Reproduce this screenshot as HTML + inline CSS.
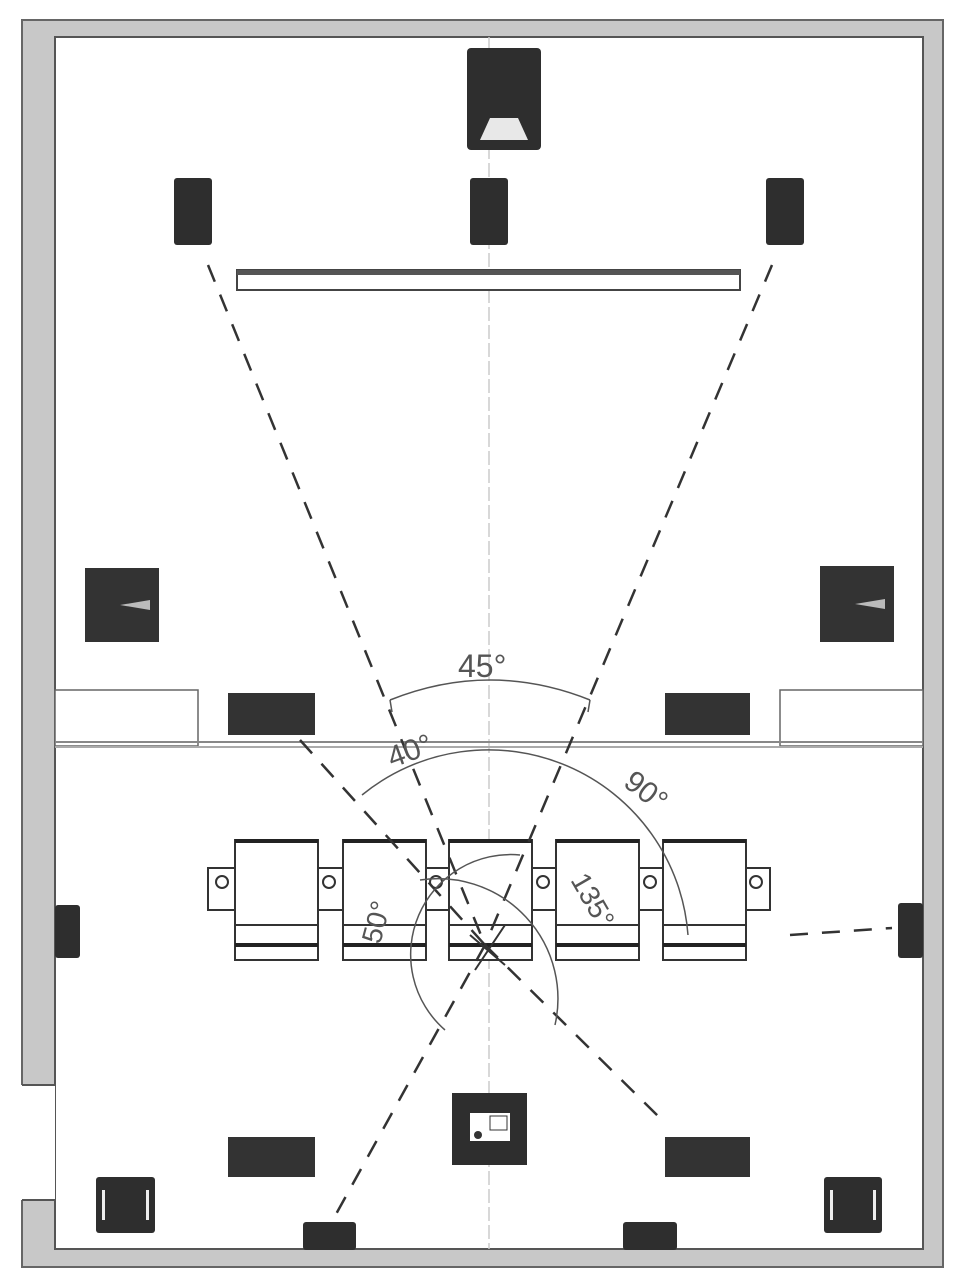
<!DOCTYPE html>
<html><head><meta charset="utf-8"><style>
html,body{margin:0;padding:0;background:#fff}
svg{display:block}
text{font-family:"Liberation Sans",sans-serif;fill:#555}
</style></head><body>
<svg width="960" height="1287" viewBox="0 0 960 1287" xmlns="http://www.w3.org/2000/svg">
<!-- walls -->
<rect x="22" y="20" width="921" height="1247" fill="#c8c8c8" stroke="#666" stroke-width="2"/>
<rect x="55" y="37" width="868" height="1212" fill="#fff" stroke="#555" stroke-width="2"/>
<rect x="21" y="1085" width="34" height="115" fill="#fff"/>
<line x1="22" y1="1085" x2="55" y2="1085" stroke="#555" stroke-width="2"/>
<line x1="22" y1="1200" x2="55" y2="1200" stroke="#555" stroke-width="2"/>
<!-- center line -->
<line x1="489" y1="37" x2="489" y2="1249" stroke="#ccc" stroke-width="1.5" stroke-dasharray="14 4"/>
<!-- top sub -->
<rect x="467" y="48" width="74" height="102" rx="4" fill="#2e2e2e"/>
<polygon points="480,140 528,140 518,118 490,118" fill="#e8e8e8"/>
<!-- front speakers -->
<rect x="174" y="178" width="38" height="67" rx="3" fill="#2e2e2e"/>
<rect x="470" y="178" width="38" height="67" rx="3" fill="#2e2e2e"/>
<rect x="766" y="178" width="38" height="67" rx="3" fill="#2e2e2e"/>
<!-- screen -->
<rect x="237" y="270" width="503" height="20" fill="#fff" stroke="#444" stroke-width="2"/>
<rect x="237" y="270" width="503" height="5" fill="#555"/>
<!-- side subs -->
<rect x="85" y="568" width="74" height="74" fill="#333"/>
<polygon points="120,605 150,600 150,610" fill="#bbb"/>
<rect x="820" y="566" width="74" height="76" fill="#333"/>
<polygon points="855,604 885,599 885,609" fill="#bbb"/>
<!-- partition -->
<rect x="55" y="690" width="143" height="56" fill="#fff" stroke="#666" stroke-width="1.5"/>
<rect x="780" y="690" width="143" height="56" fill="#fff" stroke="#666" stroke-width="1.5"/>
<line x1="55" y1="742" x2="923" y2="742" stroke="#888" stroke-width="2"/>
<line x1="55" y1="747" x2="923" y2="747" stroke="#aaa" stroke-width="2"/>
<rect x="228" y="693" width="87" height="42" fill="#333"/>
<rect x="665" y="693" width="85" height="42" fill="#333"/>
<!-- seats -->
<g stroke="#333" stroke-width="2" fill="#fff">
<rect x="208" y="868" width="562" height="42"/>
<rect x="235" y="840" width="83" height="85"/><rect x="235" y="925" width="83" height="35"/>
<rect x="343" y="840" width="83" height="85"/><rect x="343" y="925" width="83" height="35"/>
<rect x="449" y="840" width="83" height="85"/><rect x="449" y="925" width="83" height="35"/>
<rect x="556" y="840" width="83" height="85"/><rect x="556" y="925" width="83" height="35"/>
<rect x="663" y="840" width="83" height="85"/><rect x="663" y="925" width="83" height="35"/>
<circle cx="222" cy="882" r="6"/><circle cx="329" cy="882" r="6"/><circle cx="436" cy="882" r="6"/>
<circle cx="543" cy="882" r="6"/><circle cx="650" cy="882" r="6"/><circle cx="756" cy="882" r="6"/>
</g>
<g stroke="#222" stroke-width="4">
<line x1="235" y1="841" x2="318" y2="841"/><line x1="343" y1="841" x2="426" y2="841"/>
<line x1="449" y1="841" x2="532" y2="841"/><line x1="556" y1="841" x2="639" y2="841"/>
<line x1="663" y1="841" x2="746" y2="841"/>
<line x1="235" y1="945" x2="318" y2="945"/><line x1="343" y1="945" x2="426" y2="945"/>
<line x1="449" y1="945" x2="532" y2="945"/><line x1="556" y1="945" x2="639" y2="945"/>
<line x1="663" y1="945" x2="746" y2="945"/>
</g>
<!-- dashed lines -->
<g stroke="#333" stroke-width="2.5" stroke-dasharray="18 14" fill="none">
<line x1="208" y1="265" x2="485" y2="945"/>
<line x1="772" y1="265" x2="485" y2="945"/>
<line x1="300" y1="740" x2="485" y2="945"/>
<line x1="485" y1="945" x2="330" y2="1225"/>
<line x1="485" y1="945" x2="660" y2="1118"/>
<line x1="790" y1="935" x2="892" y2="928"/>
</g>
<line x1="470" y1="935" x2="505" y2="965" stroke="#333" stroke-width="2"/>
<line x1="505" y1="925" x2="475" y2="970" stroke="#333" stroke-width="2"/>
<!-- arcs -->
<g stroke="#555" stroke-width="1.5" fill="none">
<path d="M390,700 Q490,660 590,700"/>
<line x1="390" y1="700" x2="392" y2="712"/><line x1="590" y1="700" x2="588" y2="712"/>
<path d="M362,795 A200,200 0 0 1 688,935"/>
<path d="M445,1030 A100,100 0 0 1 520,855"/>
<path d="M420,880 A120,120 0 0 1 555,1025"/>
</g>
<!-- labels -->
<text x="458" y="677" font-size="32">45°</text>
<text x="0" y="0" font-size="30" transform="translate(392,768) rotate(-20)">40°</text>
<text x="0" y="0" font-size="30" transform="translate(622,785) rotate(38)">90°</text>
<text x="0" y="0" font-size="28" transform="translate(380,945) rotate(-75)">50°</text>
<text x="0" y="0" font-size="28" transform="translate(570,880) rotate(60)">135°</text>
<!-- side speakers -->
<rect x="55" y="905" width="25" height="53" rx="3" fill="#2e2e2e"/>
<rect x="898" y="903" width="25" height="55" rx="3" fill="#2e2e2e"/>
<!-- rear -->
<rect x="452" y="1093" width="75" height="72" fill="#2e2e2e"/>
<rect x="470" y="1113" width="40" height="28" fill="#fff"/>
<rect x="490" y="1116" width="17" height="14" fill="#fff" stroke="#333"/>
<circle cx="478" cy="1135" r="4" fill="#333"/>
<rect x="228" y="1137" width="87" height="40" fill="#333"/>
<rect x="665" y="1137" width="85" height="40" fill="#333"/>
<rect x="96" y="1177" width="59" height="56" rx="3" fill="#2e2e2e"/>
<rect x="102" y="1190" width="3" height="30" fill="#eee"/><rect x="146" y="1190" width="3" height="30" fill="#eee"/>
<rect x="824" y="1177" width="58" height="56" rx="3" fill="#2e2e2e"/>
<rect x="830" y="1190" width="3" height="30" fill="#eee"/><rect x="873" y="1190" width="3" height="30" fill="#eee"/>
<rect x="303" y="1222" width="53" height="28" rx="3" fill="#2e2e2e"/>
<rect x="623" y="1222" width="54" height="28" rx="3" fill="#2e2e2e"/>
</svg>
</body></html>
